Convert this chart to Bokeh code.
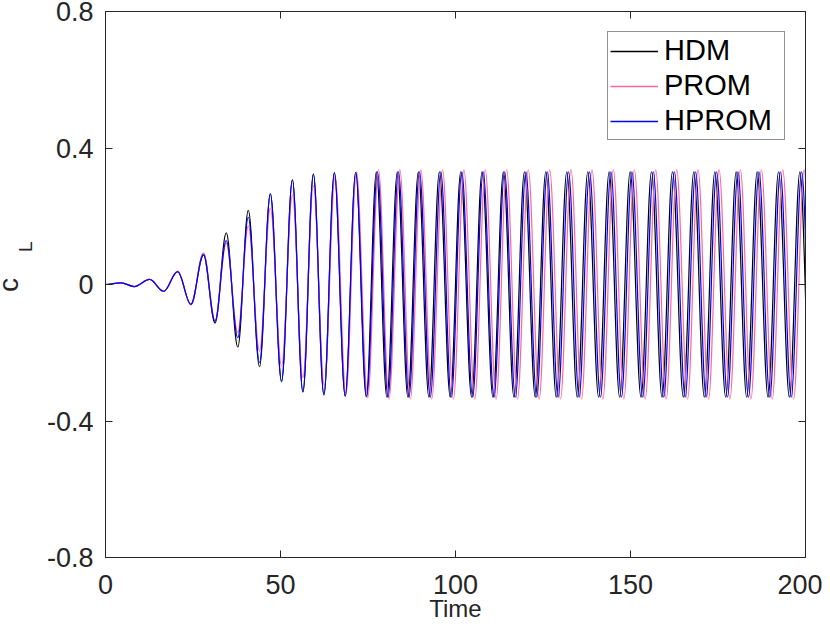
import numpy as np
from bokeh.plotting import figure
from bokeh.layouts import row
from bokeh.models import Range1d, LinearAxis, FixedTicker, Legend, LegendItem
from bokeh.core.properties import value
from bokeh.embed import file_html
from bokeh.resources import INLINE

# ---- data: extrema (time, value) ----
hdm_t = [0, 4.4, 8.2, 12.6, 16.6, 20.6, 24.4, 28.0, 31.3, 34.5, 37.8, 40.8, 44.0, 47.1, 50.3,
         53.4, 56.4, 59.4, 62.4, 65.4, 68.5, 71.5, 74.5, 77.4, 80.4, 83.4, 86.4, 89.4, 92.4,
         95.4, 98.5, 101.5, 104.6, 107.6, 110.7, 113.7, 116.7, 119.7, 122.8, 125.8, 128.8,
         131.8, 134.8, 137.8, 140.9, 143.9, 146.9, 149.9, 153.0, 156.0, 159.0, 162.0, 165.1,
         168.1, 171.1, 174.1, 177.2, 180.2, 183.2, 186.2, 189.3, 192.3, 195.4, 198.4, 201.4]
hdm_v = [0, 0.005, -0.006, 0.015, -0.020, 0.038, -0.058, 0.087, -0.113, 0.151, -0.183, 0.217,
         -0.241, 0.266, -0.283, 0.307, -0.315, 0.324, -0.324, 0.328, -0.328, 0.329, -0.329,
         0.330, -0.330, 0.330, -0.330, 0.330, -0.330, 0.330, -0.330, 0.330, -0.330, 0.330,
         -0.330, 0.330, -0.330, 0.330, -0.330, 0.330, -0.330, 0.330, -0.330, 0.330, -0.330,
         0.330, -0.330, 0.330, -0.330, 0.330, -0.330, 0.330, -0.330, 0.330, -0.330, 0.330,
         -0.330, 0.330, -0.330, 0.330, -0.330, 0.330, -0.330, 0.330, -0.330]

prom_t = [0, 4.4, 8.2, 12.6, 16.6, 20.6, 24.4, 28.0, 31.3, 34.5, 37.8, 40.8, 44.0, 47.1, 50.3,
          53.4, 56.4, 59.4, 62.5, 65.6, 68.7, 71.7, 74.9, 78.0, 81.0, 84.1, 87.1, 90.1, 93.2,
          96.3, 99.4, 102.4, 105.5, 108.5, 111.6, 114.6, 117.7, 120.8, 123.9, 126.9, 130.0,
          133.0, 136.0, 139.0, 142.1, 145.1, 148.1, 151.1, 154.2, 157.2, 160.2, 163.2, 166.3,
          169.3, 172.3, 175.3, 178.4, 181.4, 184.4, 187.4, 190.5, 193.5, 196.6, 199.6, 202.6]
prom_v = [0, 0.005, -0.006, 0.015, -0.020, 0.039, -0.060, 0.093, -0.105, 0.122, -0.141, 0.171,
          -0.195, 0.224, -0.239, 0.263, -0.273, 0.290, -0.297, 0.318, -0.320, 0.330, -0.332,
          0.336, -0.336, 0.336, -0.336, 0.336, -0.336, 0.336, -0.336, 0.336, -0.336, 0.336,
          -0.336, 0.336, -0.336, 0.336, -0.336, 0.336, -0.336, 0.336, -0.336, 0.336, -0.336,
          0.336, -0.336, 0.336, -0.336, 0.336, -0.336, 0.336, -0.336, 0.336, -0.336, 0.336,
          -0.336, 0.336, -0.336, 0.336, -0.336, 0.336, -0.336, 0.336, -0.336]

hprom_t = [0, 4.4, 8.2, 12.6, 16.6, 20.6, 24.4, 28.0, 31.3, 34.5, 37.8, 40.8, 44.0, 47.1, 50.3,
           53.4, 56.4, 59.4, 62.4, 65.4, 68.5, 71.5, 74.6, 77.7, 80.7, 83.7, 86.7, 89.7, 92.8,
           95.8, 98.8, 101.8, 104.9, 107.9, 111.0, 114.0, 117.1, 120.1, 123.2, 126.2, 129.3,
           132.3, 135.3, 138.3, 141.4, 144.4, 147.4, 150.4, 153.5, 156.5, 159.5, 162.5, 165.6,
           168.6, 171.6, 174.6, 177.7, 180.7, 183.7, 186.7, 189.8, 192.8, 195.9, 198.9, 201.9]
hprom_v = [0, 0.005, -0.006, 0.015, -0.020, 0.038, -0.058, 0.088, -0.108, 0.129, -0.156, 0.197,
           -0.229, 0.266, -0.285, 0.307, -0.315, 0.323, -0.322, 0.327, -0.326, 0.329, -0.329,
           0.330, -0.330, 0.330, -0.330, 0.330, -0.330, 0.330, -0.330, 0.330, -0.330, 0.330,
           -0.330, 0.330, -0.330, 0.330, -0.330, 0.330, -0.330, 0.330, -0.330, 0.330, -0.330,
           0.330, -0.330, 0.330, -0.330, 0.330, -0.330, 0.330, -0.330, 0.330, -0.330, 0.330,
           -0.330, 0.330, -0.330, 0.330, -0.330, 0.330, -0.330, 0.330, -0.330]

series_names = ["HDM", "PROM", "HPROM"]
series_colors = ["#000000", "#ff6699", "blue"]

x_ticks = [0, 50, 100, 150, 200]
x_tick_labels = ["0", "50", "100", "150", "200"]
y_ticks = [-0.8, -0.4, 0, 0.4, 0.8]
y_tick_labels = ["-0.8", "-0.4", "0", "0.4", "0.8"]
y_label_main = "c"
y_label_sub = "L"

FONT = "Liberation Sans"
AX = "#262626"
K = 0.3634  # cubic-bezier handle fraction giving a cosine-like half wave
H = 627
LABEL_W = 40

# ---------- narrow strip holding the y-axis title c_L ----------
lab = figure(width=LABEL_W, height=H, x_range=Range1d(0, LABEL_W), y_range=Range1d(0, H),
             output_backend="svg", toolbar_location=None, x_axis_type=None, y_axis_type=None,
             min_border=0, min_border_left=0, min_border_right=0, min_border_top=0,
             min_border_bottom=0)
lab.title.visible = False
lab.grid.visible = False
lab.outline_line_color = None
lab.background_fill_color = "white"
lab.border_fill_color = "white"
lab.text(x=[8], y=[313], text=[y_label_main], angle=np.pi / 2, text_align="center",
         text_baseline="middle", text_font=value(FONT), text_font_size="28px",
         text_color=AX)
lab.text(x=[25], y=[357], text=[y_label_sub], angle=np.pi / 2, text_align="center",
         text_baseline="middle", text_font=value(FONT), text_font_size="19px",
         text_color=AX)

# ---------- main plot ----------
p = figure(width=822 - LABEL_W, height=H, x_range=Range1d(0, 200), y_range=Range1d(-0.8, 0.8),
           output_backend="svg", toolbar_location=None,
           min_border_left=105 - LABEL_W, min_border_right=17, min_border_top=11,
           min_border_bottom=70)
p.xgrid.visible = False
p.ygrid.visible = False
p.outline_line_color = AX
p.background_fill_color = "white"
p.border_fill_color = "white"


def style_axis(ax, ticks, labels, show):
    ax.ticker = FixedTicker(ticks=ticks)
    ax.major_label_overrides = {t: (l if show else "") for t, l in zip(ticks, labels)}
    ax.major_tick_in = 7
    ax.major_tick_out = 0
    ax.minor_tick_line_color = None
    ax.axis_line_color = AX
    ax.major_tick_line_color = AX
    ax.major_label_text_font = FONT
    ax.major_label_text_font_size = "27px"
    ax.major_label_text_color = AX


style_axis(p.xaxis[0], x_ticks, x_tick_labels, True)
style_axis(p.yaxis[0], y_ticks, y_tick_labels, True)
p.xaxis[0].major_label_standoff = 17
p.yaxis[0].major_label_standoff = 12
p.xaxis[0].axis_label = "Time"
p.xaxis[0].axis_label_text_font = FONT
p.xaxis[0].axis_label_text_font_size = "24px"
p.xaxis[0].axis_label_text_font_style = "normal"
p.xaxis[0].axis_label_text_color = AX
p.xaxis[0].axis_label_standoff = -2

top_axis = LinearAxis()
style_axis(top_axis, x_ticks, x_tick_labels, False)
top_axis.major_label_text_font_size = "1px"
top_axis.major_label_standoff = 0
p.add_layout(top_axis, "above")
right_axis = LinearAxis()
style_axis(right_axis, y_ticks, y_tick_labels, False)
right_axis.major_label_text_font_size = "1px"
right_axis.major_label_standoff = 0
p.add_layout(right_axis, "right")

items = []
for (tt, vv), name, color in zip([(hdm_t, hdm_v), (prom_t, prom_v), (hprom_t, hprom_v)],
                                 series_names, series_colors):
    t = np.asarray(tt, dtype=float)
    v = np.asarray(vv, dtype=float)
    x0, x1 = t[:-1], t[1:]
    dt = x1 - x0
    p.bezier(x0=x0, y0=v[:-1], x1=x1, y1=v[1:],
             cx0=x0 + K * dt, cy0=v[:-1], cx1=x1 - K * dt, cy1=v[1:],
             line_color=color, line_width=1.2)
    # legend swatch renderer (single NaN point: draws nothing in the plot)
    proxy = p.line(x=[np.nan], y=[np.nan], line_color=color, line_width=1.3)
    items.append(LegendItem(label=name, renderers=[proxy]))

lg = Legend(items=items, location=(502, 417))
lg.border_line_color = AX
lg.border_line_width = 1
lg.label_text_font = FONT
lg.label_text_font_size = "29px"
lg.label_text_color = "black"
lg.glyph_width = 48
lg.glyph_height = 30
lg.label_height = 30
lg.label_width = 118
lg.label_standoff = 6
lg.padding = 2
lg.spacing = 2
lg.margin = 0
lg.background_fill_color = "white"
lg.background_fill_alpha = 1
p.add_layout(lg)

layout = row(lab, p)
open("out.html", "w").write(file_html(layout, INLINE))
